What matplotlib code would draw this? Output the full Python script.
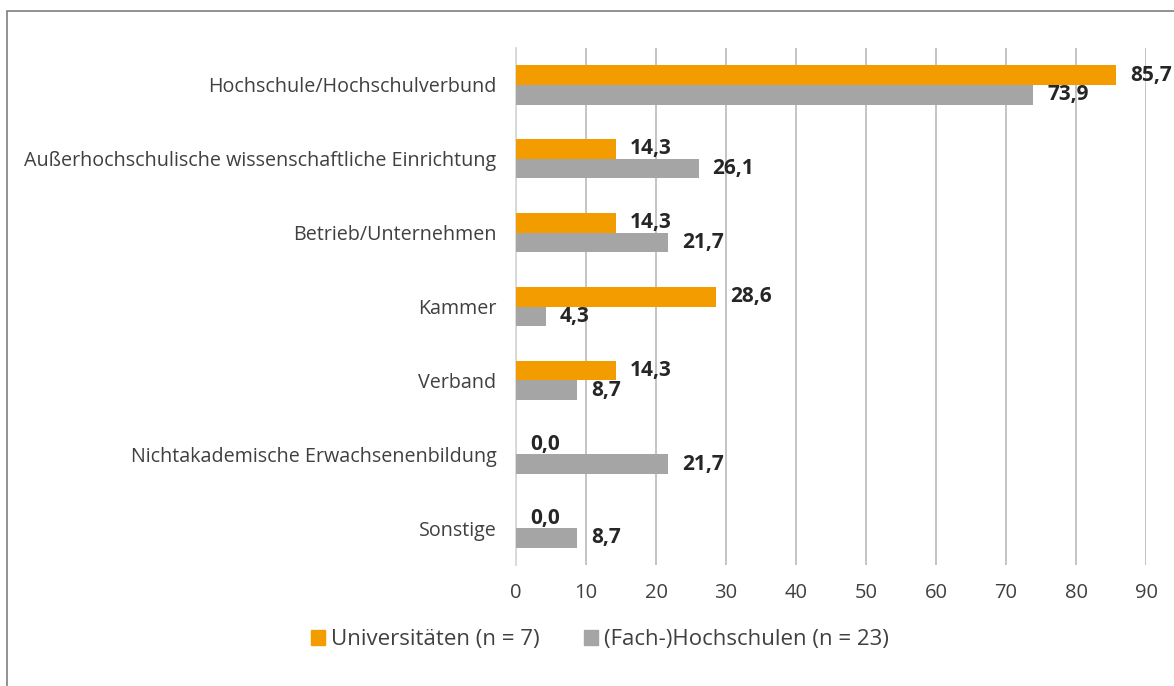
import matplotlib
matplotlib.use("Agg")
from matplotlib import pyplot
from matplotlib.patches import Rectangle, Patch
import numpy

categories = [
    "Hochschule/Hochschulverbund",
    "Außerhochschulische wissenschaftliche Einrichtung",
    "Betrieb/Unternehmen",
    "Kammer",
    "Verband",
    "Nichtakademische Erwachsenenbildung",
    "Sonstige",
]
universitaeten = [85.7, 14.3, 14.3, 28.6, 14.3, 0.0, 0.0]
fachhochschulen = [73.9, 26.1, 21.7, 4.3, 8.7, 21.7, 8.7]
series_names = ["Universitäten (n = 7)", "(Fach-)Hochschulen (n = 23)"]
ticks = [0, 10, 20, 30, 40, 50, 60, 70, 80, 90]

orange = "#F39C00"
grey = "#A5A5A5"
pyplot.rcParams['font.family'] = ['Open Sans', 'DejaVu Sans']

fig = pyplot.figure(figsize=(11.74, 6.86), dpi=100)
ax = fig.add_axes([516 / 1174, 1 - 565 / 686, 630 / 1174, 517 / 686])

y = numpy.arange(len(categories))
h = 0.265
bars_u = ax.barh(y - h / 2, universitaeten, height=h, color=orange, zorder=3)
bars_f = ax.barh(y + h / 2, fachhochschulen, height=h, color=grey, zorder=3)

def fmt(v):
    return ("%.1f" % v).replace(".", ",")

for bars, vals in ((bars_u, universitaeten), (bars_f, fachhochschulen)):
    ax.bar_label(bars, labels=[fmt(v) for v in vals], padding=10,
                 fontsize=15, fontweight='bold', color='#262626')

ax.set_xlim(0, 90)
ax.set_ylim(len(categories) - 0.5, -0.5)
ax.set_xticks(ticks)
ax.set_yticks(y)
ax.set_yticklabels(categories)
ax.tick_params(axis='y', length=0, pad=14, labelsize=14.2, labelcolor='#404040')
ax.tick_params(axis='x', length=0, pad=13, labelsize=14.5, labelcolor='#404040')
ax.xaxis.grid(True, color='#BFBFBF', linewidth=1.3, zorder=0)
for side in ('top', 'right', 'bottom'):
    ax.spines[side].set_visible(False)
ax.spines['left'].set_color('#D9D9D9')
ax.spines['left'].set_linewidth(1.3)

handles = [Patch(color=orange), Patch(color=grey)]
fig.legend(handles, series_names, loc='center', bbox_to_anchor=(600 / 1174, 1 - 640 / 686),
           ncol=2, frameon=False, fontsize=16, handlelength=0.63, handleheight=0.63,
           handletextpad=0.27, columnspacing=2.0, labelcolor='#404040')

fig.patches.append(Rectangle((7 / 1174, -0.1), 2, 1.1 - 11 / 686, transform=fig.transFigure,
                             fill=False, edgecolor='#7F7F7F', linewidth=1.2))

fig.savefig("out.png", dpi=100)
